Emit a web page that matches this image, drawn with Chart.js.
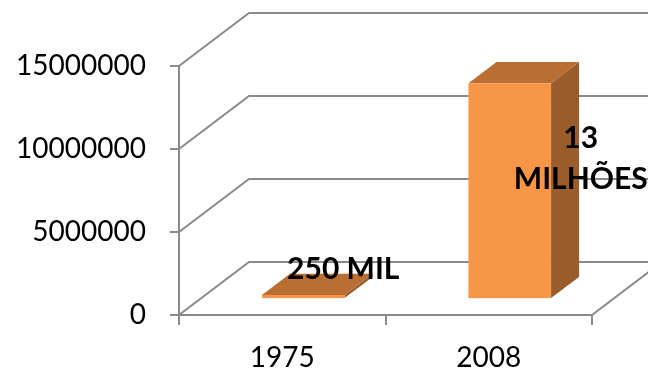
<!DOCTYPE html>
<html>
<head>
<meta charset="utf-8">
<script src="https://cdn.jsdelivr.net/npm/chart.js@4.4.1/dist/chart.umd.min.js"></script>
<style>
  html, body { margin: 0; padding: 0; background: #fff; }
  #wrap { width: 648px; height: 371px; }
</style>
</head>
<body>
<div id="wrap"><canvas id="chart"></canvas></div>
<script>
// data
var years = ['1975', '2008'];
var migrants = [250000, 13000000];
var valueLabels = ['250 MIL', ['13', 'MILHÕES']];
var yTicks = [0, 5000000, 10000000, 15000000];

// look of the fake 3d box
var DX = 70, DY = -53;          // back wall offset
var GRID = '#8a8a8a';
var FRONT = '#f79646', TOP = '#b96f33', SIDE = '#9b5c2b';
var labelOffsets = [[61, -42], [92, 60]];

var box3d = {
  id: 'box3d',
  beforeDatasetsDraw: function (chart) {
    var ctx = chart.ctx, a = chart.chartArea, y = chart.scales.y;
    ctx.save();
    ctx.strokeStyle = GRID;
    ctx.lineWidth = 2;
    yTicks.forEach(function (v) {
      var py = y.getPixelForValue(v);
      ctx.beginPath();
      ctx.moveTo(a.left, py);
      ctx.lineTo(a.left + DX, py + DY);
      ctx.lineTo(chart.width + 20, py + DY);
      ctx.stroke();
    });
    // floor right edge
    ctx.beginPath();
    ctx.moveTo(a.right, a.bottom);
    ctx.lineTo(a.right + DX, a.bottom + DY);
    ctx.stroke();
    ctx.restore();
  },
  afterDatasetsDraw: function (chart) {
    var ctx = chart.ctx;
    var meta = chart.getDatasetMeta(0);
    var ox = DX * 0.3, oy = DY * 0.3, dx = DX * 0.4, dy = DY * 0.4;
    ctx.save();
    meta.data.forEach(function (bar) {
      var p = bar.getProps(['x', 'y', 'base', 'width'], true);
      var l = p.x - p.width / 2 + ox, r = p.x + p.width / 2 + ox;
      var t = p.y + oy, b = p.base + oy;
      // side
      ctx.fillStyle = SIDE;
      ctx.beginPath();
      ctx.moveTo(r, t); ctx.lineTo(r + dx, t + dy);
      ctx.lineTo(r + dx, b + dy); ctx.lineTo(r, b);
      ctx.closePath(); ctx.fill();
      // top
      ctx.fillStyle = TOP;
      ctx.beginPath();
      ctx.moveTo(l, t); ctx.lineTo(l + dx, t + dy);
      ctx.lineTo(r + dx, t + dy); ctx.lineTo(r, t);
      ctx.closePath(); ctx.fill();
      // front
      ctx.fillStyle = FRONT;
      ctx.fillRect(l, t, r - l, Math.max(b - t, 1));
    });
    // value labels
    ctx.fillStyle = '#000';
    ctx.font = 'bold 30px Lato';
    ctx.textAlign = 'center';
    ctx.textBaseline = 'middle';
    meta.data.forEach(function (bar, i) {
      var lines = [].concat(valueLabels[i]);
      var cx = bar.x + labelOffsets[i][0], cy = bar.y + labelOffsets[i][1];
      var lh = 41;
      lines.forEach(function (s, k) {
        ctx.fillText(s, cx, cy + (k - (lines.length - 1) / 2) * lh);
      });
    });
    ctx.restore();
  }
};

new Chart(document.getElementById('chart'), {
  type: 'bar',
  data: {
    labels: years,
    datasets: [{
      data: migrants,
      backgroundColor: 'rgba(0,0,0,0)',
      borderWidth: 0,
      categoryPercentage: 1,
      barPercentage: 0.4
    }]
  },
  options: {
    responsive: true,
    maintainAspectRatio: false,
    animation: false,
    layout: { padding: { top: 66, right: 56, left: 0, bottom: 0 } },
    plugins: { legend: { display: false }, tooltip: { enabled: false } },
    scales: {
      x: {
        grid: { drawOnChartArea: false, tickLength: 10, color: GRID, lineWidth: 2 },
        border: { color: GRID, width: 2 },
        ticks: { padding: 16, color: '#000', font: { family: 'Lato', size: 28 } },
        afterFit: function (s) { s.height = 56; }
      },
      y: {
        min: 0,
        max: 15000000,
        afterBuildTicks: function (s) { s.ticks = yTicks.map(function (v) { return { value: v }; }); },
        grid: { drawOnChartArea: false, tickLength: 9, color: GRID, lineWidth: 2 },
        border: { color: GRID, width: 2 },
        ticks: {
          padding: 24, color: '#000', font: { family: 'Lato', size: 28 },
          callback: function (v) { return String(v); }
        },
        afterFit: function (s) { s.width = 179; }
      }
    }
  },
  plugins: [box3d]
});
</script>
</body>
</html>
